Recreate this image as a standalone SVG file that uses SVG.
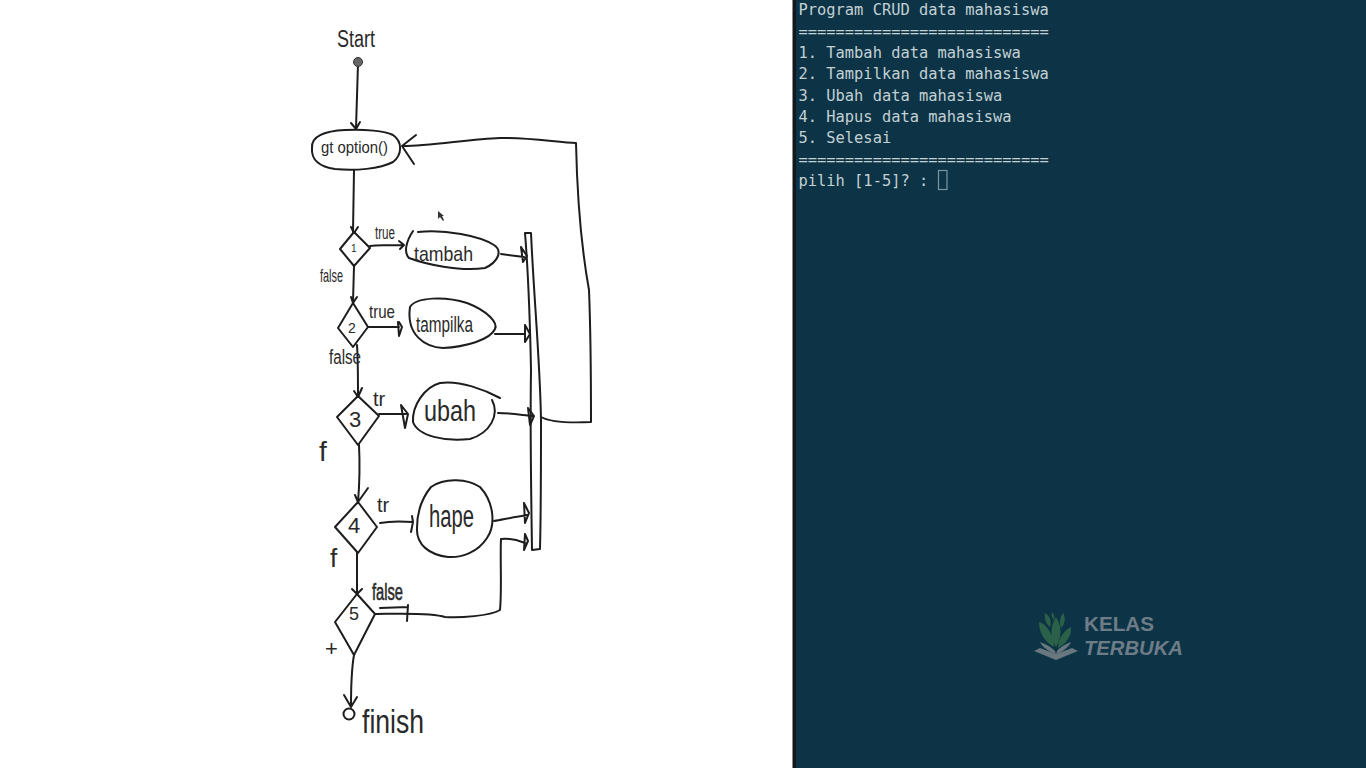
<svg xmlns="http://www.w3.org/2000/svg" width="1366" height="768" viewBox="0 0 1366 768">
<style>
.s{fill:none;stroke:#1d1d1d;stroke-width:2;stroke-linecap:round;stroke-linejoin:round}
.h{font-family:"Liberation Sans",Arial,sans-serif;fill:#2a2a2a;font-weight:400}
.t{font-family:"DejaVu Sans Mono","Liberation Mono",monospace;font-size:15.4px;fill:#c3d0d4}
.l{font-family:"Liberation Sans",Arial,sans-serif;fill:#6d7c87;font-weight:700;font-size:21px}
</style>
<rect width="1366" height="768" fill="#fff"/>
<rect x="796" width="570" height="768" fill="#0c3446"/>
<rect x="792.500" width="3.500" height="768" fill="#15181b"/>

<g id="connectors" class="s">
<path d="M358 64L356 128M351 123L356 129L360 122"/>
<path d="M403 146C430 146 470 139 500 138C530 137 560 143 576 143C577 190 580 240 589 290C591 340 591 390 591 422C570 423 550 422 541 417"/>
<path d="M416 135L402 146L414 164"/>
<path d="M354 170L353 232M351 227L354 233L358 227"/>
<path d="M354 266L353 302M351 297L353 303L357 297"/>
<path d="M370 246C380 245 392 245 403 245M399 241L404 245L400 249"/>
<path d="M368 327L399 327M399 322L402 327L399 336L398 322"/>
<path d="M357 345C358 360 358 380 358 396M354 391L358 397L362 388"/>
<path d="M379 414L406 414M401 405L408 414L405 428L401 405"/>
<path d="M359 445C360 465 359 490 358 502M355 495L358 502L368 488"/>
<path d="M380 523C390 521 400 521 413 522M412 516L413 522L411 532"/>
<path d="M357 552L357 592M352 589L357 594L362 589"/>
<path d="M375 614C390 614 430 612 445 617C460 618 490 616 500 610C502 590 500 560 501 539C510 538 520 541 525 543M525 534L528 541L524 550L525 534"/>
<path d="M380 608L408 607M408 605L407 621"/>
<path d="M354 655C351 672 351 690 351 706M344 695L351 707L357 697"/>
<path d="M501 254L524 257M521 247L527 256L523 262L521 247"/>
<path d="M495 334L525 334M525 325L530 334L525 342L525 325"/>
<path d="M498 413C510 413 522 415 533 416M528 408L534 416L530 425L528 408"/>
<path d="M494 521C505 519 515 517 527 515M524 503L529 513L525 523L524 503"/>
<path d="M525 233L531 233C534 300 540 360 541 420C541 460 541 510 540 549L532 550C531 480 530 430 531 370C530 320 528 270 525 233Z"/>
</g>

<g id="start"><text class="h" x="337" y="47" font-size="23" textLength="38" lengthAdjust="spacingAndGlyphs">Start</text><circle cx="358" cy="62" r="4.500" fill="#666" stroke="#333" stroke-width="1"/></g>
<g id="get-option"><path class="s" d="M312 148C311 136 325 131 345 130C365 129 385 131 393 135C403 142 402 155 393 162C380 169 355 171 335 169C320 167 311 160 312 148Z"/><text class="h" x="321" y="153" font-size="17" textLength="67" lengthAdjust="spacingAndGlyphs">gt option()</text></g>

<g id="decision-1"><path class="s" d="M354 232L370 248L354 266L340 249Z"/><text class="h" x="351" y="252" font-size="10">1</text><text class="h" x="375" y="239" font-size="18" textLength="20" lengthAdjust="spacingAndGlyphs">true</text><text class="h" x="320" y="282" font-size="19" textLength="23" lengthAdjust="spacingAndGlyphs">false</text></g>
<g id="tambah"><path class="s" d="M413 231C407 240 403 252 409 258C425 264 460 272 485 268C498 262 503 251 494 245C480 236 445 229 418 232"/><text class="h" x="414" y="261" font-size="21" textLength="59" lengthAdjust="spacingAndGlyphs">tambah</text></g>

<g id="decision-2"><path class="s" d="M353 303L368 327L353 347L338 328Z"/><text class="h" x="348" y="333" font-size="14">2</text><text class="h" x="369" y="318" font-size="19" textLength="26" lengthAdjust="spacingAndGlyphs">true</text><text class="h" x="329" y="364" font-size="20" textLength="32" lengthAdjust="spacingAndGlyphs">false</text></g>
<g id="tampilkan"><path class="s" d="M410 307C416 297 445 296 467 303C488 311 498 323 495 329C490 340 465 347 443 348C425 347 406 335 410 307Z"/><text class="h" x="416" y="332" font-size="22" textLength="57" lengthAdjust="spacingAndGlyphs">tampilka</text></g>

<g id="decision-3"><path class="s" d="M358 396L379 416L358 445L337 417Z"/><text class="h" x="349" y="427" font-size="22">3</text><text class="h" x="373" y="406" font-size="20">tr</text><text class="h" x="319" y="461" font-size="28">f</text></g>
<g id="ubah"><path class="s" d="M500 398C485 390 460 380 440 383C425 387 412 405 413 422C418 436 445 442 470 439C490 433 500 415 492 400"/><text class="h" x="424" y="421" font-size="30" textLength="52" lengthAdjust="spacingAndGlyphs">ubah</text></g>

<g id="decision-4"><path class="s" d="M358 502L377 527L358 553L335 527Z"/><text class="h" x="348" y="533" font-size="22">4</text><text class="h" x="377" y="512" font-size="20">tr</text><text class="h" x="330" y="567" font-size="26">f</text></g>
<g id="hapus"><path class="s" d="M431 487C445 477 468 479 480 487C494 502 496 525 487 538C478 552 462 558 448 557C430 555 416 545 417 528C417 512 422 498 431 487Z"/><text class="h" x="429" y="527" font-size="31" textLength="45" lengthAdjust="spacingAndGlyphs">hape</text></g>

<g id="decision-5"><path class="s" d="M357 594L375 614L354 655L335 622Z"/><text class="h" x="349" y="620" font-size="18">5</text><text class="h" x="372" y="600" font-size="24" textLength="31" lengthAdjust="spacingAndGlyphs" stroke="#2a2a2a" stroke-width=".6">false</text><text class="h" x="325" y="656" font-size="22">+</text></g>

<g id="finish"><circle class="s" cx="349" cy="714" r="5.500"/><text class="h" x="362" y="733" font-size="34" textLength="62" lengthAdjust="spacingAndGlyphs">finish</text></g>

<path d="M438 211L438 219L440 217L443 221L444 220L442 216L444 216Z" fill="#333"/>

<g id="terminal" class="t">
<text x="798.500" y="15">Program CRUD data mahasiswa</text>
<text x="798.500" y="37">===========================</text>
<text x="798.500" y="58">1. Tambah data mahasiswa</text>
<text x="798.500" y="79">2. Tampilkan data mahasiswa</text>
<text x="798.500" y="101">3. Ubah data mahasiswa</text>
<text x="798.500" y="122">4. Hapus data mahasiswa</text>
<text x="798.500" y="143">5. Selesai</text>
<text x="798.500" y="165">===========================</text>
<text x="798.500" y="186">pilih [1-5]? :</text>
<rect x="938.500" y="170.500" width="8.500" height="19" fill="none" stroke="#7f959d" stroke-width="1.200"/>
</g>

<g id="logo">
<path d="M1034 651L1056 660L1078 651L1072 648L1056 654L1040 648Z" fill="#69777f"/>
<path d="M1040 642C1046 644 1051 647 1055 651L1056 654C1050 652 1043 648 1040 642ZM1071 642C1066 644 1060 647 1057 651L1056 654C1062 652 1068 648 1071 642Z" fill="#69777f"/>
<g fill="#2b6148">
<path d="M1056 617C1062 626 1062 638 1056 647C1050 638 1050 626 1056 617Z"/>
<path d="M1039 622C1047 624 1054 636 1054 647C1046 643 1039 634 1039 622Z"/>
<path d="M1071 627C1072 636 1065 645 1058 648C1058 640 1063 631 1071 627Z"/>
<path d="M1045 613C1050 616 1052 622 1050 627C1046 624 1044 618 1045 613Z"/>
<path d="M1063 613C1066 618 1065 624 1061 628C1059 623 1060 617 1063 613Z"/>
<path d="M1052 612C1054 614 1055 617 1054 620C1052 618 1051 615 1052 612Z"/>
</g>
<text class="l" x="1084" y="631" textLength="70" lengthAdjust="spacingAndGlyphs">KELAS</text>
<text class="l" x="1084" y="655" font-style="italic" textLength="99" lengthAdjust="spacingAndGlyphs">TERBUKA</text>
</g>
</svg>
